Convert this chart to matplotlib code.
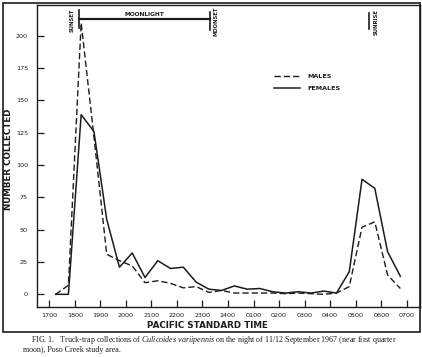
import matplotlib
matplotlib.use("Agg")
import matplotlib.pyplot as plt
from matplotlib.patches import Rectangle

# sample times (decimal hours, 24 = midnight, 31 = 0700 next day)
times = [17.25, 17.75, 18.25, 18.75, 19.25, 19.75, 20.25, 20.75, 21.25, 21.75,
         22.25, 22.75, 23.25, 23.75, 24.25, 24.75, 25.25, 25.75, 26.25, 26.75,
         27.25, 27.75, 28.25, 28.75, 29.25, 29.75, 30.25, 30.75]
males = [0, 7, 210, 122, 31, 26, 22, 9, 10.5, 8.5,
         5, 6, 1.5, 3, 1, 1, 1, 1, 0.5, 1,
         0.5, 0, 1, 6, 52, 56, 15, 4.5]
females = [0, 0, 139, 126, 58, 21, 32, 13, 26, 20,
           21, 9.5, 4, 3, 6.5, 4, 4.5, 2, 1, 2,
           1, 2.5, 1, 17.5, 89, 82, 33, 14]

tick_hours = list(range(17, 32))
tick_labels = ["1700", "1800", "1900", "2000", "2100", "2200", "2300", "2400",
               "0100", "0200", "0300", "0400", "0500", "0600", "0700"]
y_ticks = [0, 25, 50, 75, 100, 125, 150, 175, 200]

sunset = 18.17
moonset = 23.28
sunrise = 29.54
bar_y = 212.8

ink = "#1c1c1c"
plt.rcParams["font.family"] = "DejaVu Sans"
plt.rcParams["mathtext.fontset"] = "custom"
plt.rcParams["mathtext.rm"] = "Liberation Serif"
plt.rcParams["mathtext.it"] = "Liberation Serif:italic"

fig = plt.figure(figsize=(4.22, 3.57), dpi=100)
ax = fig.add_axes([37 / 422, 50 / 357, 383 / 422, 302.5 / 357])

ax.plot(times, males, "--", color=ink, lw=1.0, dashes=(4.5, 2.2), label="MALES")
ax.plot(times, females, "-", color=ink, lw=1.1, label="FEMALES")

ax.set_xlim(16.52, 31.52)
ax.set_ylim(-9.8, 224.2)
ax.set_xticks(tick_hours)
ax.set_xticklabels(tick_labels)
ax.set_yticks(y_ticks)
ax.tick_params(axis="both", direction="in", length=5, width=0.9, colors=ink, labelsize=4.6)
ax.tick_params(axis="x", pad=4)
ax.tick_params(axis="y", pad=6.5)
for s in ax.spines.values():
    s.set_color(ink)
    s.set_linewidth(1.0)

ax.set_xlabel("PACIFIC STANDARD TIME", fontsize=6.3, fontweight="bold", color=ink)
ax.xaxis.set_label_coords(0.446, -0.047)
ax.set_ylabel("NUMBER COLLECTED", fontsize=6.3, fontweight="bold", color=ink)
ax.yaxis.set_label_coords(-0.062, 0.49)

# moonlight bar and event markers
ax.plot([sunset, moonset], [bar_y, bar_y], color=ink, lw=1.6)
ax.plot([sunset, sunset], [206, 220], color=ink, lw=1.2)
ax.plot([moonset, moonset], [204.3, 218.4], color=ink, lw=1.2)
ax.plot([sunrise, sunrise], [205, 217.6], color=ink, lw=1.2)
ax.text((sunset + moonset) / 2, bar_y + 2, "MOONLIGHT", fontsize=4.2, fontweight="bold",
        color=ink, ha="center", va="bottom")
ax.annotate("SUNSET", (sunset, 212), xytext=(-3, 0), textcoords="offset points",
            rotation=90, ha="right", va="center", fontsize=3.8, fontweight="bold", color=ink)
ax.annotate("MOONSET", (moonset, 211), xytext=(2.5, 0), textcoords="offset points",
            rotation=90, ha="left", va="center", fontsize=3.8, fontweight="bold", color=ink)
ax.annotate("SUNRISE", (sunrise, 210.5), xytext=(3, 0), textcoords="offset points",
            rotation=90, ha="left", va="center", fontsize=3.8, fontweight="bold", color=ink)

leg = ax.legend(loc="upper left", bbox_to_anchor=(0.605, 0.79), frameon=False,
                fontsize=4.6, handlelength=4.0, handletextpad=1.1, labelspacing=1.0)
for t in leg.get_texts():
    t.set_fontweight("bold")
    t.set_color(ink)

# outer frame around figure
fig.patches.append(Rectangle((3 / 422, 25 / 357), 417 / 422, 329 / 357,
                             transform=fig.transFigure, fill=False, ec=ink, lw=1.2))

fig.text(31 / 422, 1 - 340 / 357,
         r"FIG. 1.   Truck-trap collections of $Culicoides\ variipennis$ on the night of 11/12 September 1967 (near first quarter",
         fontsize=5.8, family="Liberation Serif", color=ink, va="center")
fig.text(22.7 / 422, 1 - 350 / 357, "moon), Poso Creek study area.",
         fontsize=5.8, family="Liberation Serif", color=ink, va="center")

fig.savefig("out.png", dpi=100)
